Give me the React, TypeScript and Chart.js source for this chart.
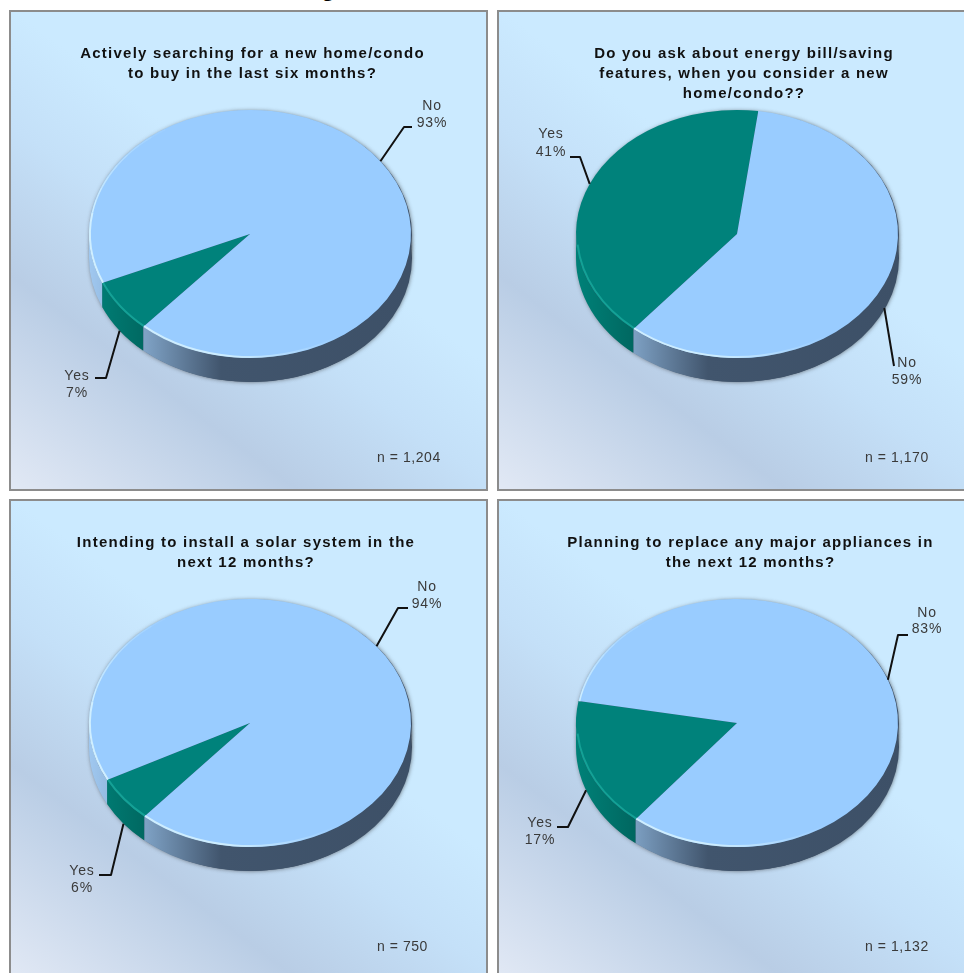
import React, { useEffect, useRef } from "react";
import { Chart, registerables } from "chart.js";

Chart.register(...registerables);

// Survey results, one pie per question
const questions: string[][] = [
  ["Actively searching for a new home/condo", "to buy in the last six months?"],
  ["Do you ask about energy bill/saving", "features, when you consider a new", "home/condo??"],
  ["Intending to install a solar system in the", "next 12 months?"],
  ["Planning to replace any major appliances in", "the next 12 months?"],
];
const answers = ["Yes", "No"];
const yesShares = [7, 41, 6, 17];
const noShares = [93, 59, 94, 83];
const sampleSizes = ["1,204", "1,170", "750", "1,132"];

// Layout of the four panels
const PANEL_W = 479;
const PANEL_H = 481;
const panelOrigins = [
  [9, 10],
  [497, 10],
  [9, 499],
  [497, 499],
];
const pieCentreX = [241, 240, 241, 240];
const PIE_CY = 224;
const PIE_RX = 161;
const PIE_RY = 124;
const PIE_DEPTH = 24;
const startAngles = [221.5, 220, 221, 219];
// Side padding that nudges each title off the panel's centre line
const titlePadLeft = [8, 15, 0, 28];
const titlePadRight = [0, 0, 5, 0];

// Callout geometry in panel coordinates, indexed by slice: [Yes, No]
type Callout = { elbow: number[]; end: number[]; cx: number; y1: number; y2: number };
const callouts: Callout[][] = [
  [
    { elbow: [97, 368], end: [86, 368], cx: 68, y1: 370, y2: 387 },
    { elbow: [395, 117], end: [403, 117], cx: 423, y1: 100, y2: 117 },
  ],
  [
    { elbow: [83, 147], end: [73, 147], cx: 54, y1: 128, y2: 146 },
    { elbow: [397, 356], end: [397, 356], cx: 410, y1: 357, y2: 374 },
  ],
  [
    { elbow: [102, 376], end: [90, 376], cx: 73, y1: 376, y2: 393 },
    { elbow: [389, 109], end: [399, 109], cx: 418, y1: 92, y2: 109 },
  ],
  [
    { elbow: [71, 328], end: [60, 328], cx: 43, y1: 328, y2: 345 },
    { elbow: [401, 136], end: [411, 136], cx: 430, y1: 118, y2: 134 },
  ],
];

const TAU = Math.PI * 2;
const DEG = Math.PI / 180;
const BODY_FONT = "14px 'Liberation Sans', Arial, sans-serif";

// Visits the parts of [start, end] that fall in [lo, hi], whatever turn the angles are on
function eachOverlap(start: number, end: number, lo: number, hi: number, fn: (a: number, b: number) => void) {
  for (let k = -2; k <= 2; k++) {
    const a = Math.max(start + TAU * k, lo);
    const b = Math.min(end + TAU * k, hi);
    if (a < b) fn(a, b);
  }
}

function makePiePlugin(panel: number) {
  const cx = pieCentreX[panel];
  return {
    id: "tiltedPie",
    beforeDraw(chart: any) {
      const { ctx } = chart;
      ctx.save();
      const g = ctx.createLinearGradient(0, PANEL_H, 401, PANEL_H - 535);
      g.addColorStop(0, "#e2e9f5");
      g.addColorStop(0.26, "#b9cde5");
      g.addColorStop(0.44, "#c4e0f8");
      g.addColorStop(0.58, "#cbeaff");
      g.addColorStop(1, "#cbeaff");
      ctx.fillStyle = g;
      ctx.fillRect(0, 0, PANEL_W, PANEL_H);
      ctx.strokeStyle = "#8c8c8c";
      ctx.lineWidth = 2;
      ctx.strokeRect(1, 1, PANEL_W - 2, PANEL_H - 2);
      ctx.restore();
      ctx.letterSpacing = "1.25px";
    },
    beforeDatasetsDraw(chart: any) {
      const { ctx } = chart;
      const arcs = chart.getDatasetMeta(0).data;
      ctx.save();
      ctx.letterSpacing = "0px";
      // Soft shadow under the whole disc
      ctx.save();
      ctx.shadowColor = "rgba(45,45,45,0.65)";
      ctx.shadowBlur = 4;
      ctx.fillStyle = "#3d5067";
      ctx.beginPath();
      ctx.ellipse(cx + 1, PIE_CY + PIE_DEPTH, PIE_RX, PIE_RY, 0, 0, TAU);
      ctx.fill();
      ctx.beginPath();
      ctx.ellipse(cx + 1, PIE_CY + 1, PIE_RX, PIE_RY, 0, 0, TAU);
      ctx.fill();
      ctx.restore();
      // Outer wall of each slice on the near half of the disc
      const yesWall = ctx.createLinearGradient(cx - PIE_RX, 0, cx - 80, 0);
      yesWall.addColorStop(0, "#008178");
      yesWall.addColorStop(1, "#005d57");
      const noWall = ctx.createLinearGradient(cx - PIE_RX, 0, cx + PIE_RX, 0);
      noWall.addColorStop(0, "#a0c8f0");
      noWall.addColorStop(0.18, "#7da0c3");
      noWall.addColorStop(0.41, "#41556d");
      noWall.addColorStop(1, "#3d5067");
      arcs.forEach((arc: any, i: number) => {
        eachOverlap(arc.startAngle, arc.endAngle, 0, Math.PI, (a, b) => {
          ctx.beginPath();
          ctx.ellipse(cx, PIE_CY, PIE_RX, PIE_RY, 0, a, b);
          ctx.ellipse(cx, PIE_CY + PIE_DEPTH, PIE_RX, PIE_RY, 0, b, a, true);
          ctx.closePath();
          ctx.fillStyle = i === 0 ? yesWall : noWall;
          ctx.fill();
        });
      });
      ctx.restore();
    },
    // Flattens the round slices into the tilted ellipse
    beforeDatasetDraw(chart: any) {
      const { ctx } = chart;
      const arc = chart.getDatasetMeta(0).data[0];
      ctx.save();
      ctx.translate(cx, PIE_CY);
      ctx.scale(1, PIE_RY / PIE_RX);
      ctx.translate(-arc.x, -arc.y);
    },
    afterDatasetDraw(chart: any) {
      chart.ctx.restore();
    },
    afterDraw(chart: any) {
      const { ctx } = chart;
      const arcs = chart.getDatasetMeta(0).data;
      ctx.save();
      // Bevel highlight along the rim, fading out around the far left of the disc
      const rimNo = ctx.createLinearGradient(cx - PIE_RX, 0, cx + 90, 0);
      rimNo.addColorStop(0, "rgba(210,240,255,0.95)");
      rimNo.addColorStop(0.55, "rgba(210,240,255,0.9)");
      rimNo.addColorStop(1, "rgba(210,240,255,0)");
      arcs.forEach((arc: any, i: number) => {
        ctx.lineWidth = 2;
        eachOverlap(arc.startAngle, arc.endAngle, 0.1, (i === 0 ? 175 : 190) * DEG, (a, b) => {
          ctx.beginPath();
          ctx.ellipse(cx, PIE_CY, PIE_RX - 1, PIE_RY - 1, 0, a, b);
          ctx.strokeStyle = i === 0 ? "#14a196" : rimNo;
          ctx.stroke();
        });
        if (i === 1) {
          for (let s = 0; s < 8; s++) {
            const lo = (190 + s * 6) * DEG;
            ctx.globalAlpha = 1 - (s + 1) / 9;
            ctx.lineWidth = 1.5;
            eachOverlap(arc.startAngle, arc.endAngle, lo, lo + 6 * DEG, (a, b) => {
              ctx.beginPath();
              ctx.ellipse(cx, PIE_CY, PIE_RX - 1, PIE_RY - 1, 0, a, b);
              ctx.strokeStyle = "rgb(210,240,255)";
              ctx.stroke();
            });
          }
          ctx.globalAlpha = 1;
        }
      });

      // Callouts start from the middle of each slice's outer edge
      arcs.forEach((arc: any, i: number) => {
        const c = callouts[panel][i];
        const mid = (arc.startAngle + arc.endAngle) / 2;
        const sy = Math.sin(mid);
        const ax = cx + PIE_RX * Math.cos(mid);
        const ay = PIE_CY + PIE_RY * sy + (sy > 0 ? PIE_DEPTH : 0);
        ctx.beginPath();
        ctx.moveTo(ax, ay);
        ctx.lineTo(c.elbow[0], c.elbow[1]);
        ctx.lineTo(c.end[0], c.end[1]);
        ctx.strokeStyle = "#111111";
        ctx.lineWidth = 2;
        ctx.lineJoin = "round";
        ctx.stroke();

        const share = chart.data.datasets[0].data[i];
        ctx.font = BODY_FONT;
        ctx.letterSpacing = "0.9px";
        ctx.fillStyle = "#3a3a3a";
        ctx.textAlign = "center";
        ctx.textBaseline = "alphabetic";
        ctx.fillText(chart.data.labels[i], c.cx, c.y1);
        ctx.fillText(`${share}%`, c.cx, c.y2);
      });

      ctx.font = BODY_FONT;
      ctx.letterSpacing = "0.55px";
      ctx.fillStyle = "#3a3a3a";
      ctx.textAlign = "left";
      ctx.fillText(`n = ${sampleSizes[panel]}`, 368, 452);
      ctx.restore();
    },
  };
}

function PiePanel({ panel }: { panel: number }) {
  const ref = useRef<HTMLCanvasElement>(null);
  useEffect(() => {
    const chart = new Chart(ref.current as HTMLCanvasElement, {
      type: "pie",
      data: {
        labels: answers,
        datasets: [
          {
            data: [yesShares[panel], noShares[panel]],
            backgroundColor: ["#00827b", "#99ccff"],
            borderWidth: 0,
            radius: PIE_RX,
            clip: false,
          } as any,
        ],
      },
      options: {
        responsive: false,
        animation: false,
        events: [],
        rotation: startAngles[panel],
        layout: { padding: { left: titlePadLeft[panel], right: titlePadRight[panel] } },
        plugins: {
          legend: { display: false },
          tooltip: { enabled: false },
          title: {
            display: true,
            fullSize: false,
            text: questions[panel],
            color: "#111111",
            font: { family: "'Liberation Sans', Arial, sans-serif", weight: "bold", size: 15, lineHeight: 20 / 15 },
            padding: { top: 34, bottom: 0 },
          },
        },
      },
      plugins: [makePiePlugin(panel)],
    });
    return () => chart.destroy();
  }, [panel]);
  const [left, top] = panelOrigins[panel];
  return (
    <canvas
      ref={ref}
      width={PANEL_W}
      height={PANEL_H}
      style={{ position: "absolute", left, top, width: PANEL_W, height: PANEL_H }}
    />
  );
}

export default function App() {
  useEffect(() => {
    document.body.style.margin = "0";
  }, []);
  return (
    <div style={{ position: "fixed", left: 0, top: 0, width: 964, height: 973, overflow: "hidden", background: "#fff" }}>
      <div
        style={{
          position: "absolute",
          left: 321,
          top: -24,
          font: "bold 24px/24px 'Liberation Sans', Arial, sans-serif",
          color: "#000",
        }}
      >
        g
      </div>
      {questions.map((_, i) => (
        <PiePanel key={i} panel={i} />
      ))}
    </div>
  );
}
